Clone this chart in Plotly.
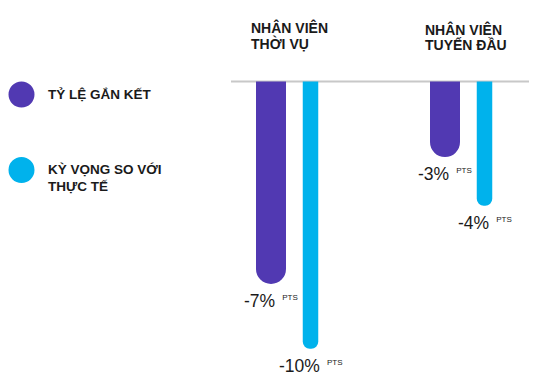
import plotly.graph_objects as go

# ---- data ----
groups = ["NHÂN VIÊN|THỜI VỤ", "NHÂN VIÊN|TUYẾN ĐẦU"]
series_names = ["TỶ LỆ GẮN KẾT", "KỲ VỌNG SO VỚI|THỰC TẾ"]
engagement = [-7.5, -2.8]          # bar lengths as drawn
expectation = [-9.9, -4.6]
engagement_labels = ["-7%", "-3%"]
expectation_labels = ["-10%", "-4%"]
unit_label = "PTS"

PURPLE = "#5139B2"
CYAN = "#00B2EC"
TEXT = "#1a1a1a"
FONT = "Liberation Sans"

PAGE_W, PAGE_H = 537, 383
M = 8                      # default body margin of the html page
W, H = PAGE_W - M, PAGE_H - M

def fx(p):                 # page pixel x -> figure pixel x
    return p - M
def fy(p):
    return p - M

PX_PER_GROUP = 174.0
X0_PX = fx(290.75)         # figure pixel of group 0 centre
PX_PER_UNIT_Y = 27.0
BASE_PX = fy(81.5)         # figure pixel of the zero line

x_range = [-X0_PX / PX_PER_GROUP, (W - X0_PX) / PX_PER_GROUP]
y_range = [-(H - BASE_PX) / PX_PER_UNIT_Y, BASE_PX / PX_PER_UNIT_Y]

off = 19.75 / PX_PER_GROUP
w_p = 30 / PX_PER_GROUP
w_c = 15.5 / PX_PER_GROUP
gx = list(range(len(groups)))

fig = go.Figure()
fig.add_trace(go.Bar(x=gx, y=engagement, width=w_p, offset=-off - w_p / 2,
                     marker=dict(color=PURPLE, cornerradius="50%", line=dict(width=0)),
                     name=series_names[0], showlegend=False, hoverinfo="skip"))
fig.add_trace(go.Bar(x=gx, y=expectation, width=w_c, offset=off - w_c / 2,
                     marker=dict(color=CYAN, cornerradius="50%", line=dict(width=0)),
                     name=series_names[1], showlegend=False, hoverinfo="skip"))

ann = []
def value_label(x, y, txt):
    ann.append(dict(
        x=x, y=y, xref="x", yref="y", xanchor="center", yanchor="top", yshift=-5,
        showarrow=False,
        text=f"{txt} <sup><span style='font-size:8px'>&nbsp;{unit_label}</span></sup>",
        font=dict(family=FONT, size=17.5, color=TEXT)))

for i in gx:
    value_label(i - off, engagement[i], engagement_labels[i])
    value_label(i + off, expectation[i], expectation_labels[i])

# group headers
for i, g in enumerate(groups):
    for j, line in enumerate(g.split("|")):
        top_px = fy(17 + 16 * j + (2 if i == 1 else 0))
        ann.append(dict(
            x=i - off - w_p / 2 - 7 / PX_PER_GROUP, xref="x", xanchor="left",
            y=1 - top_px / H, yref="paper", yanchor="top", showarrow=False,
            text=f"<b>{line}</b>", font=dict(family=FONT, size=14, color=TEXT)))

# legend
legend_cy = [94.5, 170]
for k, (name, col) in enumerate(zip(series_names, [PURPLE, CYAN])):
    cy = fy(legend_cy[k])
    fig.add_shape(type="circle", xref="paper", yref="paper",
                  x0=fx(8.5) / W, x1=fx(34.5) / W, y0=1 - (cy + 13) / H, y1=1 - (cy - 13) / H,
                  fillcolor=col, line=dict(width=0))
    for j, line in enumerate(name.split("|")):
        ann.append(dict(
            x=fx(46) / W, xref="paper", xanchor="left",
            y=1 - (cy + 16 * j) / H, yref="paper", yanchor="middle", showarrow=False,
            text=f"<b>{line}</b>", font=dict(family=FONT, size=13.5, color=TEXT)))

# zero line
fig.add_shape(type="line", xref="x", yref="y",
              x0=(fx(231) - X0_PX) / PX_PER_GROUP, x1=(fx(535) - X0_PX) / PX_PER_GROUP,
              y0=0, y1=0, line=dict(color="#c8c8c8", width=2), layer="below")

fig.update_layout(
    width=W, height=H, margin=dict(l=0, r=0, t=0, b=0),
    paper_bgcolor="white", plot_bgcolor="white",
    barmode="overlay", annotations=ann,
    xaxis=dict(range=x_range, visible=False, fixedrange=True),
    yaxis=dict(range=y_range, visible=False, fixedrange=True),
)
fig.write_html("out.html")
